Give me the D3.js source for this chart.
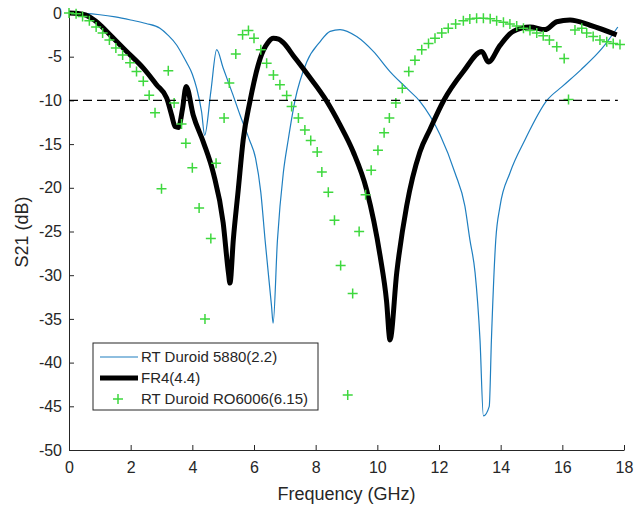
<!DOCTYPE html>
<html>
<head>
<meta charset="utf-8">
<script src="https://cdn.jsdelivr.net/npm/d3@7"></script>
<style>
  body { margin: 0; background: #fff; }
  svg { font-family: "Liberation Sans", Arial, sans-serif; }
</style>
</head>
<body>
<svg id="chart" width="635" height="508"></svg>
<script>
// RT Duroid 5880 (2.2)
const blueF  = [0,0.5,1,1.5,2,2.5,2.95,3.2,3.49,3.65,3.82,4.0,4.14,4.3,4.4,4.6,4.79,5.0,5.3,5.55,5.85,6.05,6.22,6.36,6.57,6.62,6.76,6.95,7.11,7.33,7.71,8.14,8.47,8.79,9.33,9.87,10.41,10.95,11.38,12.03,12.52,12.84,13.0,13.17,13.33,13.44,13.63,13.7,13.84,13.98,14.3,14.79,15.5,16.0,16.6,17.3,17.8];
const blueDb = [0,-0.05,-0.2,-0.45,-0.8,-1.2,-1.75,-2.5,-3.66,-4.6,-5.7,-7.0,-8.6,-11.3,-14,-9,-4.2,-6.3,-9.2,-11.7,-14.5,-16.6,-20.5,-26,-33.6,-35.5,-26,-18.3,-14.5,-10,-5.6,-3.3,-2.1,-1.9,-2.7,-4.4,-6.7,-8.6,-10.1,-13.9,-18.3,-22.1,-25.9,-29.7,-37.4,-46.1,-45,-37.4,-26,-22.1,-18.3,-14.5,-10,-8.4,-6.5,-4,-1.6];

// FR4 (4.4)
const blackF  = [0,0.3,0.55,0.85,1.05,1.33,1.87,2.41,2.84,3.17,3.33,3.44,3.55,3.68,3.8,4.03,4.36,4.68,5.0,5.17,5.22,5.33,5.49,5.65,5.87,6.2,6.45,6.63,6.8,6.95,7.3,7.71,8.36,8.79,9.22,9.65,10.09,10.3,10.41,10.63,10.95,11.38,11.71,12.14,12.79,13.39,13.6,13.98,14.41,14.95,15.44,15.82,16.25,16.9,17.76];
const blackDb = [0,-0.05,-0.25,-0.9,-1.5,-2.5,-4.4,-6.3,-8.2,-9.75,-11.7,-13.0,-13.1,-11,-8.4,-11.7,-14.8,-18.3,-24,-29.7,-30.9,-25.9,-20.2,-14.5,-10.1,-5.2,-3.4,-2.9,-3.0,-3.4,-5.0,-6.9,-10.1,-12.8,-15.9,-20.2,-27.8,-33,-37.4,-29.7,-22.1,-15.9,-13.3,-10.1,-6.7,-4.4,-5.6,-3.7,-2.1,-1.6,-1.9,-1.0,-0.8,-1.4,-2.5];

// RT Duroid RO6006 (6.15)
const greenF  = [0,0.23,0.44,0.66,0.88,1.09,1.31,1.52,1.74,1.98,2.19,2.41,2.6,2.79,3.0,3.22,3.41,3.65,3.79,4.0,4.22,4.41,4.6,4.77,5.03,5.2,5.41,5.63,5.82,6.0,6.22,6.41,6.63,6.84,7.06,7.22,7.44,7.65,7.84,8.05,8.2,8.41,8.61,8.81,9.04,9.2,9.41,9.62,9.8,10.02,10.22,10.39,10.6,10.81,11.02,11.22,11.44,11.66,11.87,12.09,12.3,12.54,12.79,13.0,13.22,13.44,13.66,13.87,14.09,14.3,14.52,14.74,14.95,15.17,15.38,15.58,15.82,16.06,16.2,16.41,16.63,16.79,17.0,17.22,17.44,17.65,17.87];
const greenDb = [0,-0.1,-0.4,-0.9,-1.6,-2.3,-3.1,-4.0,-4.8,-5.7,-6.7,-7.8,-9.4,-11.4,-20.1,-6.6,-10.3,-12.7,-14.9,-17.7,-22.3,-35,-25.8,-17.2,-12.0,-8.0,-4.7,-2.5,-2.0,-2.9,-4.2,-5.75,-7.1,-8.2,-9.45,-10.7,-12.0,-13.4,-14.6,-15.9,-18.2,-20.5,-23.7,-28.9,-43.7,-32.1,-25,-20.8,-18.0,-15.7,-13.7,-12.0,-10.3,-8.6,-6.7,-5.4,-4.2,-3.5,-2.9,-2.3,-1.75,-1.26,-0.9,-0.7,-0.6,-0.6,-0.65,-0.9,-1.06,-1.26,-1.5,-1.75,-2.0,-2.3,-2.6,-3.1,-3.85,-5.2,-9.9,-1.95,-1.75,-2.3,-2.7,-3.1,-3.3,-3.5,-3.6];

const xTicks = [0,2,4,6,8,10,12,14,16,18];
const yTicks = [0,-5,-10,-15,-20,-25,-30,-35,-40,-45,-50];
const threshold = -10;
const names = ["RT Duroid 5880(2.2)", "FR4(4.4)", "RT Duroid RO6006(6.15)"];

const plot = { left: 69, right: 624, top: 13, bottom: 450 };
const axisColor = "#262626";
const blue = "#1f7fc0", green = "#3ed83e";

const svg = d3.select("#chart");

const x = d3.scaleLinear().domain([0, 18]).range([plot.left, plot.right]);
const y = d3.scaleLinear().domain([-50, 0]).range([plot.bottom, plot.top]);

const zip = (a, b) => a.map((v, i) => [v, b[i]]);
const line = d3.line().x(d => x(d[0])).y(d => y(d[1])).curve(d3.curveMonotoneX);

// axes (inward ticks, no box), plain hyphen minus like the original
const gx = svg.append("g")
  .attr("transform", `translate(0,${plot.bottom})`)
  .call(d3.axisBottom(x).tickValues(xTicks).tickFormat(d => String(d))
    .tickSizeInner(-5).tickSizeOuter(0).tickPadding(12));
const gy = svg.append("g")
  .attr("transform", `translate(${plot.left},0)`)
  .call(d3.axisLeft(y).tickValues(yTicks).tickFormat(d => String(d))
    .tickSizeInner(-5).tickSizeOuter(0).tickPadding(7));

[gx, gy].forEach(g => {
  g.select(".domain").attr("stroke", axisColor);
  g.selectAll(".tick line").attr("stroke", axisColor);
  g.selectAll(".tick text").attr("fill", axisColor).style("font-size", "16px").style("font-family", "Liberation Sans, Arial, sans-serif");
});

// series
svg.append("path")
  .datum(zip(blueF, blueDb))
  .attr("fill", "none").attr("stroke", blue).attr("stroke-width", 1.2)
  .attr("d", line);

svg.append("path")
  .datum(zip(blackF, blackDb))
  .attr("fill", "none").attr("stroke", "#000").attr("stroke-width", 5)
  .attr("stroke-linejoin", "round")
  .attr("d", line);

svg.append("g").selectAll("path.mk")
  .data(zip(greenF, greenDb))
  .join("path")
  .attr("class", "mk")
  .attr("transform", d => `translate(${x(d[0])},${y(d[1])})`)
  .attr("d", "M-5,0H5M0,-5V5")
  .attr("stroke", green).attr("stroke-width", 1.5).attr("fill", "none");

// -10 dB reference
svg.append("line")
  .attr("x1", x(0)).attr("x2", x(17.8))
  .attr("y1", y(threshold)).attr("y2", y(threshold))
  .attr("stroke", "#000").attr("stroke-width", 1.3)
  .attr("stroke-dasharray", "9,5");

// labels
svg.append("text")
  .attr("x", (plot.left + plot.right) / 2).attr("y", 500)
  .attr("text-anchor", "middle").attr("fill", axisColor)
  .style("font-size", "18px")
  .text("Frequency (GHz)");

svg.append("text")
  .attr("transform", `translate(28,232) rotate(-90)`)
  .attr("text-anchor", "middle").attr("fill", axisColor)
  .style("font-size", "18px")
  .text("S21 (dB)");

// legend
const lg = svg.append("g").attr("transform", "translate(93,343)");
lg.append("rect").attr("width", 225).attr("height", 67)
  .attr("fill", "#fff").attr("stroke", axisColor).attr("stroke-width", 1);

const rows = [14, 35, 56];
lg.append("line").attr("x1", 7).attr("x2", 45).attr("y1", rows[0]).attr("y2", rows[0])
  .attr("stroke", blue).attr("stroke-width", 1.2);
lg.append("line").attr("x1", 7).attr("x2", 45).attr("y1", rows[1]).attr("y2", rows[1])
  .attr("stroke", "#000").attr("stroke-width", 5);
lg.append("path").attr("transform", `translate(25,${rows[2]})`)
  .attr("d", "M-5,0H5M0,-5V5").attr("stroke", green).attr("stroke-width", 1.5);

lg.selectAll("text.lab").data(names).join("text")
  .attr("class", "lab")
  .attr("x", 48).attr("y", (d, i) => rows[i])
  .attr("dy", "0.35em").attr("fill", axisColor)
  .style("font-size", "15px")
  .text(d => d);
</script>
</body>
</html>
